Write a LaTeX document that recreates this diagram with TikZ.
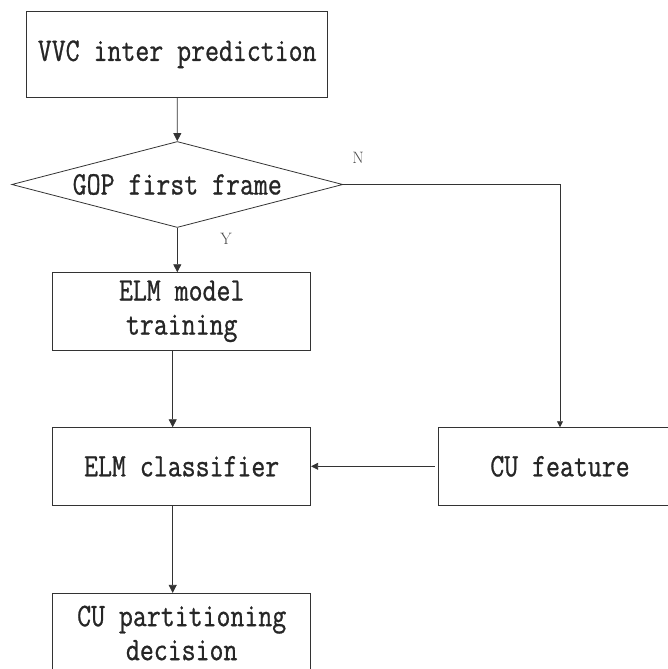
\documentclass[tikz,border=0pt]{standalone}
\usepackage{fontspec}
\usetikzlibrary{arrows.meta, shapes.geometric}
\newfontfamily\flowfont{Latin Modern Mono}[FakeStretch=0.825, FakeBold=0.8]

\begin{document}
\begin{tikzpicture}[x=1pt, y=-1pt, line width=0.8pt,
		box/.style={draw=black!80, rectangle, minimum width=258pt, minimum height=77.3pt, inner sep=0pt, align=center, text=black!85, font=\flowfont\fontsize{32.8}{34}\selectfont},
		arr/.style={-{Triangle[length=8pt, width=8pt]}, black!80},
		yn/.style={text=black!70, inner sep=0pt, font=\fontsize{16.5}{16.5}\selectfont}]
		\useasboundingbox	(0, 0) rectangle (668, 669);
		\clip				(0, 0) rectangle (668, 669);

		\node[box, minimum width=301pt, minimum height=86.5pt]		(vvc)	at (177.2, 54.3)	{VVC inter prediction};
		\node[box, diamond, aspect=3.85, minimum width=331pt, minimum height=86pt]	(gop)	at (177.3, 184.5)	{GOP first frame};
		\node[box]								(train)	at (181.7, 311.3)	{ELM model\\training};
		\node[box]								(cls)	at (181.7, 466.3)	{ELM classifier};
		\node[box, minimum width=244pt]			(feat)	at (560, 466.3)		{CU feature};
		\node[box, minimum height=79.4pt]		(dec)	at (181.7, 633)		{CU partitioning\\decision};

		\node[yn]	(ylab)	at (226, 239)		{Y};
		\node[yn]	(nlab)	at (358, 157.5)		{N};

		\draw[arr]	(vvc.south) to (gop.north);
		\draw[arr]	(gop.south) to (gop.south |- train.north);
		\draw[arr]	([xshift=-9pt]train.south) to ([xshift=-9pt]cls.north);
		\draw[arr]	([xshift=-9pt]cls.south) to ([xshift=-9pt]dec.north);
		\draw[-{Triangle[length=6pt, width=6pt]}, black!80]	(gop.east) -| (feat.north);
		\draw[-{Triangle[length=7pt, width=7pt]}, black!80, shorten <=3pt]	(feat.west) to (cls.east);
	\end{tikzpicture}
\end{document}
